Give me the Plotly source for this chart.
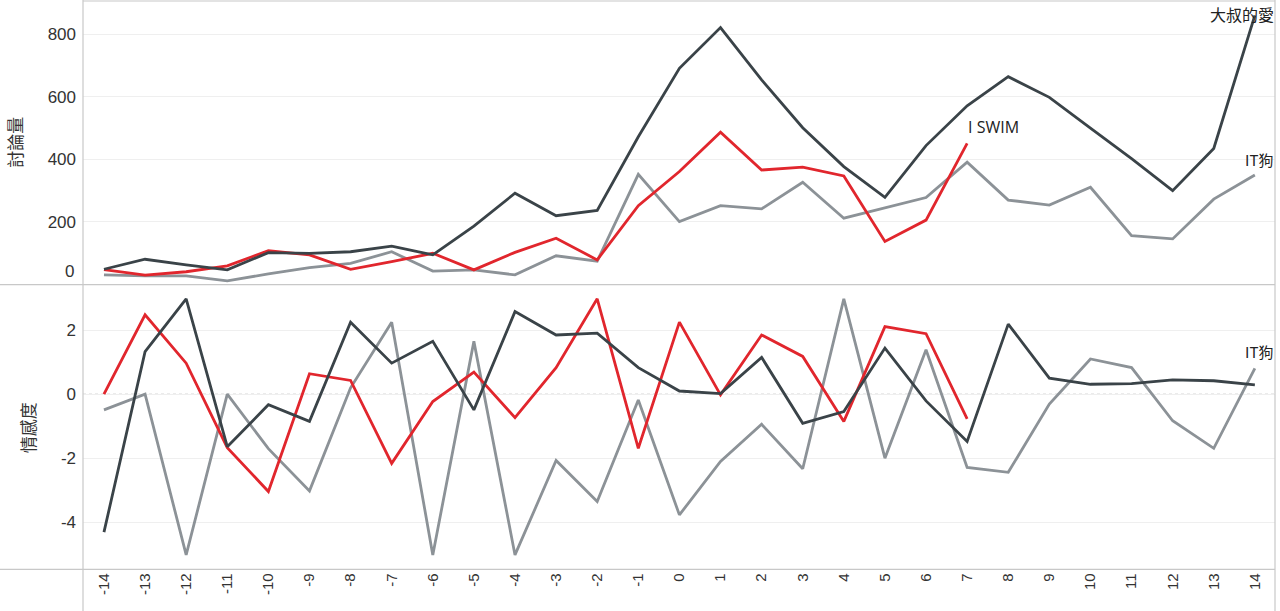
import plotly.graph_objects as go

days = list(range(-14, 15))
x_tick_labels = [str(d) for d in days]

# 討論量 (discussion volume)
vol_uncle = [49, 81, 63, 47, 102, 100, 105, 123, 95, 187, 292, 220, 237, 472, 691, 821, 654, 501, 377, 279, 444, 571, 664, 598, 500, 402, 300, 435, 860]
vol_swim = [48, 30, 41, 60, 108, 95, 49, 73, 100, 47, 103, 148, 79, 252, 361, 487, 366, 375, 347, 138, 206, 451]
vol_itdog = [31, 28, 28, 12, 34, 54, 68, 105, 43, 47, 31, 92, 75, 352, 201, 252, 242, 327, 212, 244, 278, 391, 270, 254, 311, 156, 146, 273, 350]

# 情感度 (sentiment)
sen_uncle = [-4.31, 1.33, 2.98, -1.64, -0.33, -0.85, 2.25, 0.97, 1.65, -0.49, 2.58, 1.85, 1.91, 0.83, 0.10, 0.02, 1.15, -0.91, -0.54, 1.44, -0.21, -1.48, 2.19, 0.50, 0.31, 0.33, 0.45, 0.42, 0.29]
sen_swim = [0.0, 2.48, 0.97, -1.67, -3.04, 0.64, 0.43, -2.16, -0.23, 0.69, -0.73, 0.83, 2.98, -1.69, 2.25, -0.02, 1.85, 1.18, -0.85, 2.11, 1.89, -0.77]
sen_itdog = [-0.49, 0.0, -5.02, 0.0, -1.70, -3.02, 0.20, 2.25, -5.02, 1.65, -5.02, -2.07, -3.35, -0.18, -3.77, -2.10, -0.94, -2.33, 2.98, -2.00, 1.39, -2.29, -2.44, -0.31, 1.10, 0.83, -0.83, -1.69, 0.81]

top_ticks = [200, 400, 600, 800]
bottom_ticks = [-4, -2, 0, 2]

C_DARK = "#3a4348"
C_RED = "#e1262d"
C_GRAY = "#8c9297"
W, H = 1280, 611
FONT = "Liberation Sans, Noto Sans CJK TC, sans-serif"
CJK = "Noto Sans CJK TC, Liberation Sans, sans-serif"
TXT = "#333333"

fig = go.Figure()

def add(x, y, color, xa, ya, name):
    fig.add_trace(go.Scatter(x=x, y=y, mode="lines", name=name,
                             line=dict(color=color, width=2.8),
                             xaxis=xa, yaxis=ya, showlegend=False))

add(days, vol_itdog, C_GRAY, "x2", "y2", "IT狗")
add(days[:len(vol_swim)], vol_swim, C_RED, "x2", "y2", "I SWIM")
add(days, vol_uncle, C_DARK, "x2", "y2", "大叔的愛")
add(days, sen_itdog, C_GRAY, "x", "y", "IT狗")
add(days[:len(sen_swim)], sen_swim, C_RED, "x", "y", "I SWIM")
add(days, sen_uncle, C_DARK, "x", "y", "大叔的愛")

def py(pix):
    return (H - pix) / H

x_dom = [83 / W, 1275 / W]
top_dom = [py(284.6), py(0)]
bot_dom = [py(569.3), py(286)]

fig.update_layout(
    width=W, height=H,
    margin=dict(l=0, r=0, t=0, b=0),
    paper_bgcolor="white", plot_bgcolor="white",
    font=dict(family=FONT, color=TXT),
    xaxis=dict(domain=x_dom, range=[-14.51, 14.49], tickvals=days, ticktext=x_tick_labels,
               tickangle=-90, tickfont=dict(size=15, color=TXT),
               showgrid=False, zeroline=False, showline=False, ticks="", anchor="y"),
    xaxis2=dict(domain=x_dom, range=[-14.51, 14.49], matches="x", showticklabels=False,
                showgrid=False, zeroline=False, showline=False, ticks="", anchor="y2"),
    yaxis=dict(domain=bot_dom, range=[-5.47, 3.38], tickvals=bottom_ticks,
               ticktext=[str(v) for v in bottom_ticks], ticklabelstandoff=6,
               tickfont=dict(size=17, color=TXT), gridcolor="#efefef", gridwidth=1,
               zeroline=False, showline=False, ticks="", anchor="x",
               title=dict(text="情感度", font=dict(family=CJK, size=17, color=TXT), standoff=20)),
    yaxis2=dict(domain=top_dom, range=[0, 909], tickvals=top_ticks,
                ticktext=[str(v) for v in top_ticks], ticklabelstandoff=6,
                tickfont=dict(size=17, color=TXT), gridcolor="#efefef", gridwidth=1,
                zeroline=False, showline=False, ticks="", anchor="x2",
                title=dict(text="討論量", font=dict(family=CJK, size=17, color=TXT), standoff=20)),
)

lc = "#c8c8c8"
shapes = [
    dict(type="line", xref="paper", yref="paper", x0=0, x1=1275 / W, y0=py(284.6), y1=py(284.6), line=dict(color=lc, width=1.2)),
    dict(type="line", xref="paper", yref="paper", x0=0, x1=1275 / W, y0=py(569.3), y1=py(569.3), line=dict(color=lc, width=1.2)),
    dict(type="line", xref="paper", yref="paper", x0=83 / W, x1=83 / W, y0=0, y1=1, line=dict(color=lc, width=1.2)),
    dict(type="line", xref="paper", yref="paper", x0=1275 / W, x1=1275 / W, y0=0, y1=1, line=dict(color=lc, width=1.2)),
    dict(type="line", xref="paper", yref="paper", x0=83 / W, x1=1275 / W, y0=py(1), y1=py(1), line=dict(color=lc, width=1.2)),
    dict(type="line", xref="paper", yref="y", x0=83 / W, x1=1275 / W, y0=0, y1=0, line=dict(color="#bdbdbd", width=1, dash="dot"), layer="below"),
]
fig.update_layout(shapes=shapes)

fig.add_annotation(x=76 / W, y=0, xref="paper", yref="y2", text="0", showarrow=False,
                   xanchor="right", yanchor="bottom", font=dict(size=17, color=TXT), yshift=2)

fig.add_annotation(x=14, y=vol_uncle[-1], xref="x2", yref="y2", text="大叔的愛", showarrow=False,
                   xanchor="right", yanchor="middle", xshift=21, yshift=1,
                   font=dict(family=CJK, size=16, color="#222222"))
fig.add_annotation(x=7, y=vol_swim[-1], xref="x2", yref="y2", text="I SWIM", showarrow=False,
                   xanchor="left", yanchor="middle", xshift=-1, yshift=16,
                   font=dict(family="Open Sans, " + CJK, size=16, color="#222222"))
fig.add_annotation(x=14, y=vol_itdog[-1], xref="x2", yref="y2", text="IT狗", showarrow=False,
                   xanchor="center", yanchor="middle", xshift=4, yshift=16,
                   font=dict(family=CJK, size=15, color="#222222"))
fig.add_annotation(x=14, y=sen_itdog[-1], xref="x", yref="y", text="IT狗", showarrow=False,
                   xanchor="center", yanchor="middle", xshift=4, yshift=17,
                   font=dict(family=CJK, size=15, color="#222222"))

fig.write_html("out.html", config={"displayModeBar": False},
               post_script="document.body.style.margin='0';document.body.style.overflow='hidden';")
